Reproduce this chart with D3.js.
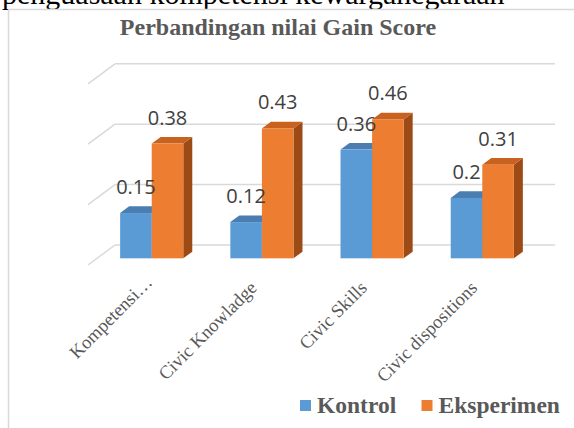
<!DOCTYPE html>
<html>
<head>
<meta charset="utf-8">
<script src="https://cdn.jsdelivr.net/npm/d3@7"></script>
<style>
  body { margin: 0; background: #fff; }
  svg { display: block; }
</style>
</head>
<body>
<svg id="chart"></svg>
<script>
const categories = ['Kompetensi…', 'Civic Knowladge', 'Civic Skills', 'Civic dispositions'];
const seriesNames = ['Kontrol', 'Eksperimen'];
const kontrol = [0.15, 0.12, 0.36, 0.2];
const eksperimen = [0.38, 0.43, 0.46, 0.31];
const labelText = ['0.15', '0.12', '0.36', '0.2'];
const labelTextEks = ['0.38', '0.43', '0.46', '0.31'];
const gridValues = [0, 0.2, 0.4, 0.6];

const colors = {
  Kontrol: { front: '#5b9bd5', top: '#4a7db0', side: '#3d6a96' },
  Eksperimen: { front: '#ed7d31', top: '#c9621e', side: '#9c4b17' }
};

const width = 574, height = 428;
const serif = '"Liberation Serif", "Times New Roman", serif';
const svg = d3.select('#chart').attr('width', width).attr('height', height);

// heading line of the page, clipped at the top
svg.append('text')
  .attr('x', 2)
  .attr('y', 4)
  .style('font-family', serif)
  .style('font-size', '30px')
  .attr('fill', '#000')
  .text('penguasaan kompetensi kewarganegaraan');

// chart frame
svg.append('rect')
  .attr('x', 8.5).attr('y', 9.5)
  .attr('width', 700).attr('height', 600)
  .attr('fill', 'none')
  .attr('stroke', '#d9d9d9')
  .attr('stroke-width', 1.5);

svg.append('text')
  .attr('x', 278)
  .attr('y', 35)
  .attr('text-anchor', 'middle')
  .style('font-family', serif)
  .style('font-size', '24px')
  .style('font-weight', 'bold')
  .attr('fill', '#595959')
  .text('Perbandingan nilai Gain Score');

// 3d projection: floor depth vector (front -> back)
const DX = 27, DY = -20;
const x0 = d3.scaleBand().domain(categories).range([88, 528]).paddingInner(0.427).paddingOuter(0.21);
const x1 = d3.scaleBand().domain(seriesNames).range([0, x0.bandwidth()]);
const y = d3.scaleLinear().domain([0, 0.6]).range([265, 265 - 0.6 * 302]);

const grid = svg.append('g');
gridValues.forEach(v => {
  grid.append('line')
    .attr('x1', 88).attr('y1', y(v))
    .attr('x2', 88 + DX).attr('y2', y(v) + DY)
    .attr('stroke', '#d9d9d9').attr('stroke-width', 1.5);
  grid.append('line')
    .attr('x1', 88 + DX).attr('y1', y(v) + DY)
    .attr('x2', 528 + DX).attr('y2', y(v) + DY)
    .attr('stroke', '#d9d9d9').attr('stroke-width', 1.5);
});

const rows = [];
categories.forEach((c, i) => {
  rows.push({ cat: c, series: 'Kontrol', value: kontrol[i], label: labelText[i] });
  rows.push({ cat: c, series: 'Eksperimen', value: eksperimen[i], label: labelTextEks[i] });
});

const d1 = 1 / 3, d2 = 2 / 3;
const bars = svg.append('g');
rows.forEach(d => {
  const xl = x0(d.cat) + x1(d.series) + DX * d1;
  const xr = xl + x1.bandwidth();
  const yt = y(d.value) + DY * d1;
  const yb = y(0) + DY * d1;
  const ox = DX * (d2 - d1), oy = DY * (d2 - d1);
  const col = colors[d.series];
  const g = bars.append('g');
  g.append('path')
    .attr('d', `M${xr},${yt}L${xr + ox},${yt + oy}L${xr + ox},${yb + oy}L${xr},${yb}Z`)
    .attr('fill', col.side);
  g.append('path')
    .attr('d', `M${xl},${yt}L${xl + ox},${yt + oy}L${xr + ox},${yt + oy}L${xr},${yt}Z`)
    .attr('fill', col.top);
  g.append('rect')
    .attr('x', xl).attr('y', yt)
    .attr('width', xr - xl).attr('height', yb - yt)
    .attr('fill', col.front);
});

svg.append('g').selectAll('text')
  .data(rows)
  .join('text')
  .attr('x', d => x0(d.cat) + x1(d.series) + x1.bandwidth() / 2 + DX * d1)
  .attr('y', d => y(d.value) + DY * d1 - 19)
  .attr('text-anchor', 'middle')
  .style('font-family', '"Open Sans", sans-serif')
  .style('font-size', '20px')
  .attr('fill', '#404040')
  .text(d => d.label);

// category labels, rotated
svg.append('g').selectAll('text')
  .data(categories)
  .join('text')
  .attr('transform', d => `translate(${x0(d) + x0.bandwidth() / 2 + DX * d1 - 4},${y(0) + 24}) rotate(-45)`)
  .attr('dx', d => d.endsWith('…') ? 8 : 0)
  .attr('text-anchor', 'end')
  .style('font-family', serif)
  .style('font-size', '18.5px')
  .attr('fill', '#595959')
  .text(d => d);

// legend
const legend = svg.append('g');
const legendX = [300, 421.5];
seriesNames.forEach((s, i) => {
  legend.append('rect')
    .attr('x', legendX[i]).attr('y', 400)
    .attr('width', 11).attr('height', 11)
    .attr('fill', colors[s].front);
  legend.append('text')
    .attr('x', legendX[i] + 17).attr('y', 413)
    .style('font-family', serif)
    .style('font-size', '23.5px')
    .style('font-weight', 'bold')
    .attr('fill', '#595959')
    .text(s);
});
</script>
</body>
</html>
